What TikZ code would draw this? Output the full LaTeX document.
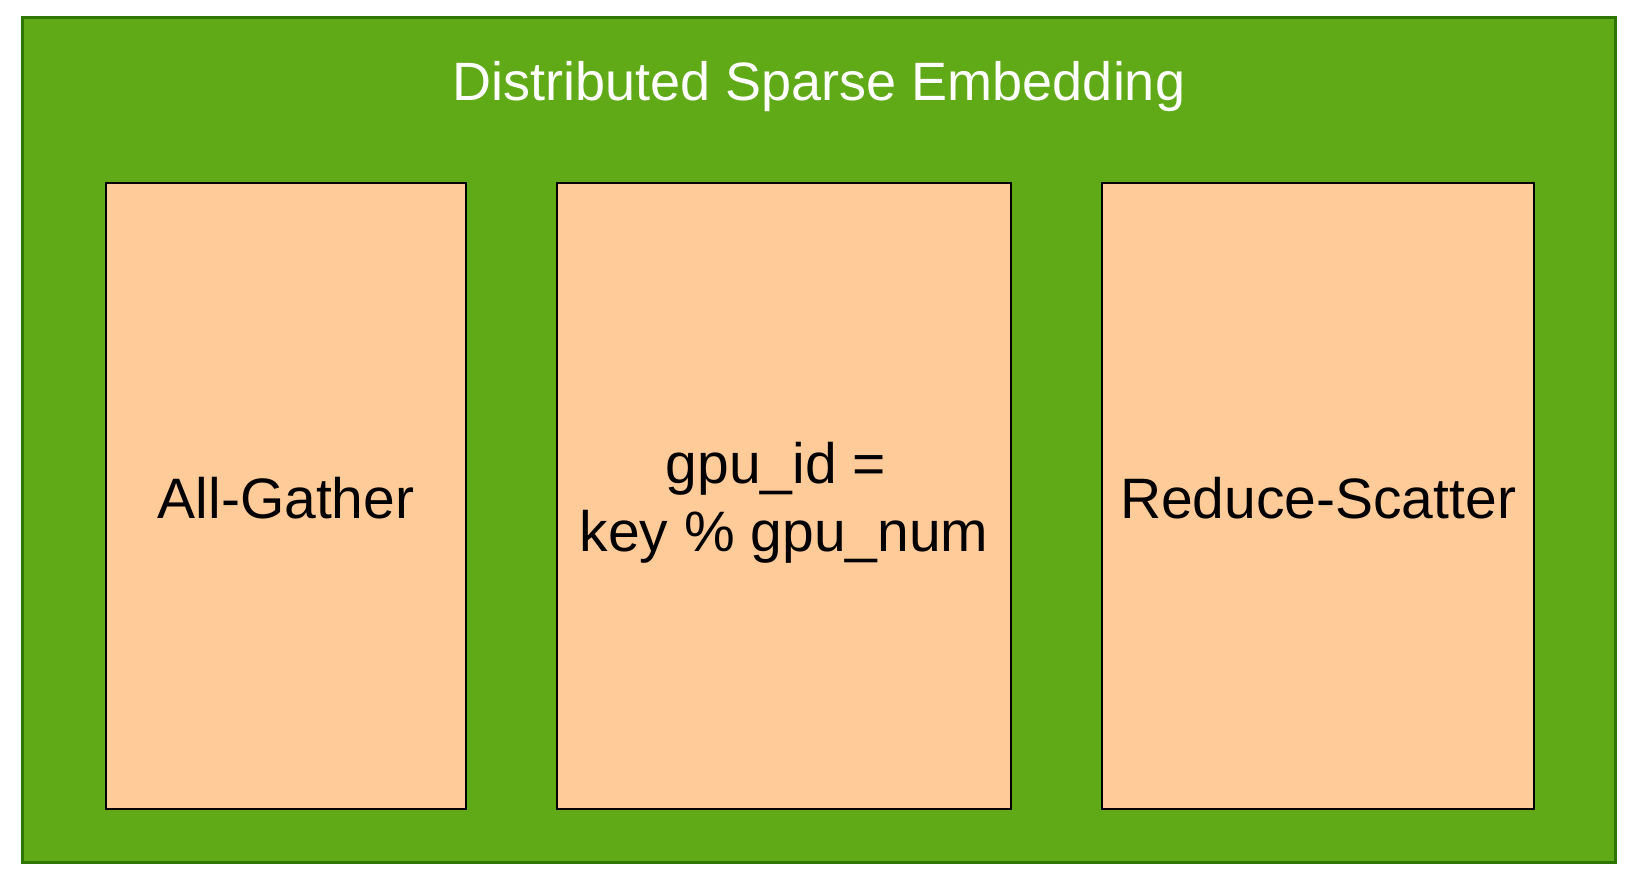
\documentclass[tikz,border=0pt]{standalone}
\usepackage{fontspec}
\setmainfont{Liberation Sans}
\definecolor{outergreen}{HTML}{60A917}
\definecolor{outerline}{HTML}{2D7600}
\definecolor{boxfill}{HTML}{FFCC99}
\begin{document}
\begin{tikzpicture}[x=1pt,y=-1pt,
  panel/.style={draw=black,fill=boxfill,line width=2.6pt,inner sep=0pt,
    minimum height=626pt},
  paneltext/.style={font=\fontsize{57}{68}\selectfont,align=center,text=black}]
\useasboundingbox (0,0) rectangle (1635,877);
\draw[fill=outergreen,draw=outerline,line width=2.4pt] (22.5,17.5) rectangle (1615.5,862.5);
\node[font=\fontsize{54}{64}\selectfont,text=white] (title) at (819,87) {Distributed Sparse Embedding};
\node[panel,minimum width=360pt] (ag) at (286,496) {};
\node[panel,minimum width=454pt] (mod) at (784,496) {};
\node[panel,minimum width=432pt] (rs) at (1318,496) {};
\node[paneltext] (agt) at (286,498) {All-Gather};
\node[paneltext] (modt) at (784,503) {gpu\_id =\hspace*{16pt}\null\\key \% gpu\_num};
\node[paneltext] (rst) at (1318,498) {Reduce-Scatter};
\end{tikzpicture}
\end{document}
